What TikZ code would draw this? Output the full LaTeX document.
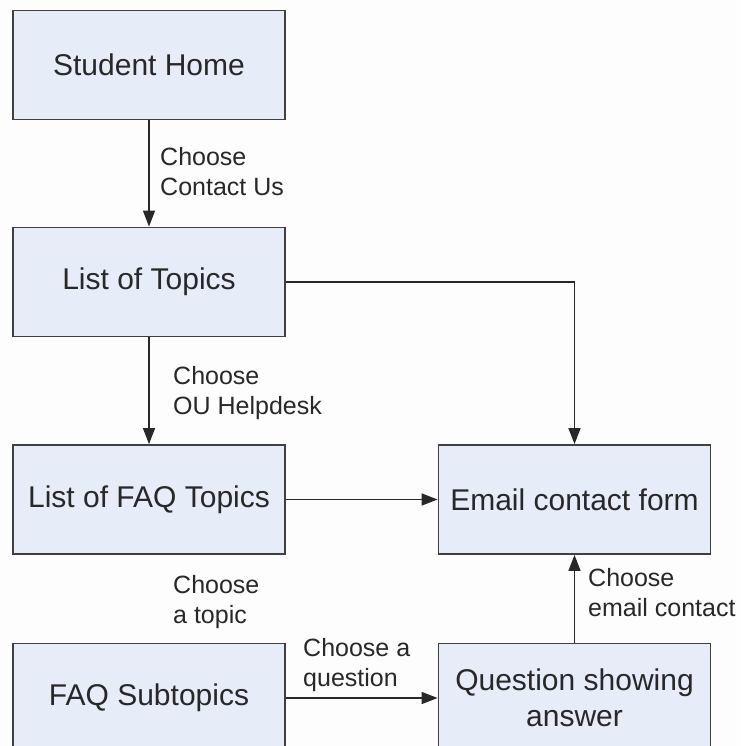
\documentclass[tikz,border=0pt]{standalone}
\usepackage{fontspec}
\setmainfont{Liberation Sans}
\usetikzlibrary{arrows.meta}
\definecolor{boxfill}{RGB}{230,236,248}
\definecolor{boxline}{RGB}{64,64,64}
\definecolor{inkgray}{RGB}{40,40,40}
\definecolor{paper}{RGB}{253,253,253}

\begin{document}
\begin{tikzpicture}[x=1pt,y=-1pt,
  page/.style={draw=boxline,line width=1.8pt,fill=boxfill,minimum width=272pt,minimum height=109pt,
    align=center,inner sep=0pt,text=inkgray,font=\fontsize{30}{36}\selectfont},
  lbl/.style={anchor=north west,align=left,inner sep=0pt,text=inkgray,font=\fontsize{25}{30}\selectfont},
  arr/.style={draw=inkgray,line width=1.4pt,-{Triangle[length=16pt,width=12pt]}}]
\clip (0,0) rectangle (740,746);
\fill[paper] (0,0) rectangle (740,746);

\node[page] (home) at (149,65) {Student Home};
\node[page] (topics) at (149,282) {List of Topics};
\node[page] (faq) at (149,499.5) {List of FAQ Topics};
\node[page] (sub) at (149,698) {FAQ Subtopics};
\node[page] (email) at (574.5,499.5) {Email contact form};
\node[page] (quest) at (574.5,698) {Question showing\\answer};

\draw[arr] (home) -- (topics);
\node[lbl] (l1) at (160,147) {Choose\\Contact Us};
\draw[arr] (topics) -- (faq);
\node[lbl] (l2) at (173,366) {Choose\\OU Helpdesk};
\draw[arr] (topics.east) -| (email.north);
\draw[arr] (faq) -- (email);
\node[lbl] (l3) at (173,575) {Choose\\a topic};
\draw[arr] (sub) -- (quest);
\node[lbl] (l4) at (303,638) {Choose a\\question};
\draw[arr] (quest) -- (email);
\node[lbl] (l5) at (588,568) {Choose\\email contact};

\end{tikzpicture}
\end{document}
